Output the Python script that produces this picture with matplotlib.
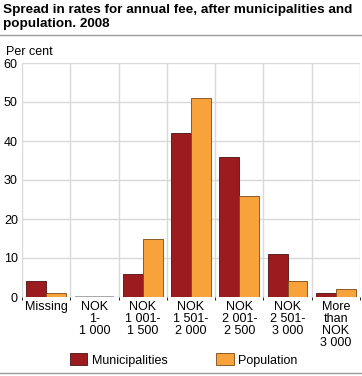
import numpy as np
import matplotlib.pyplot as plt

categories = ["Missing", "NOK\n1-\n1 000", "NOK\n1 001-\n1 500", "NOK\n1 501-\n2 000",
              "NOK\n2 001-\n2 500", "NOK\n2 501-\n3 000", "More\nthan\nNOK\n3 000"]
municipalities = [4, 0, 6, 42, 36, 11, 1]
population = [1, 0, 15, 51, 26, 4, 2]
series_names = ["Municipalities", "Population"]
colors = ["#9b1b1f", "#f7a23b"]

plt.rcParams['font.family'] = ['Liberation Sans', 'DejaVu Sans']

fig = plt.figure(figsize=(3.62, 3.76), dpi=100)
ax = fig.add_axes([22 / 362, 1 - 297 / 376, 338 / 362, 234 / 376])

x = np.arange(len(categories))
w = 0.41
for k, (vals, c, name) in enumerate(zip([municipalities, population], colors, series_names)):
    pos = x + (k - 0.5) * w
    ax.bar(pos, vals, width=w, color=c, edgecolor="#4a1010" if k == 0 else "#7a4a18",
           linewidth=0.6, label=name, zorder=3)
    # zero values are shown as a thin grey line
    zero = [p for p, v in zip(pos, vals) if v == 0]
    ax.bar(zero, [0.35] * len(zero), width=w, color="#aaaaaa", zorder=3)

ax.set_xlim(-0.5, len(categories) - 0.5)
ax.set_ylim(0, 60)
ax.set_yticks(range(0, 61, 10))
ax.set_xticks(x)
ax.set_xticklabels(categories, fontsize=9, linespacing=1.0)
ax.tick_params(axis='y', labelsize=9, length=0, pad=3)
ax.tick_params(axis='x', length=0, pad=3)
ax.set_xticks(np.arange(-0.5, len(categories) + 0.5, 1), minor=True)
ax.grid(axis='y', color="#d9d9d9", linewidth=1, zorder=0)
ax.grid(axis='x', which='minor', color="#d9d9d9", linewidth=1, zorder=0)
ax.grid(axis='x', which='major', visible=False)
for s in ax.spines.values():
    s.set_visible(False)

fig.text(3 / 362, 1 - 4 / 376, "Spread in rates for annual fee, after municipalities and\npopulation. 2008",
         fontsize=9.7, fontweight='bold', va='top', ha='left', linespacing=1.2)
fig.add_artist(plt.Line2D([0, 1], [1 - 35 / 376, 1 - 35 / 376], color="#999999", linewidth=1))
fig.text(6 / 362, 1 - 52 / 376, "Per cent", fontsize=9, va='center', ha='left')
fig.add_artist(plt.Line2D([0, 1], [1 - 373 / 376, 1 - 373 / 376], color="#999999", linewidth=1))

fig.legend(loc='center', bbox_to_anchor=(0.507, 1 - 360 / 376), ncol=2, frameon=False,
           fontsize=9, handlelength=1.4, handleheight=1.1, columnspacing=3.9, handletextpad=0.35)

fig.savefig("out.png", dpi=100)
